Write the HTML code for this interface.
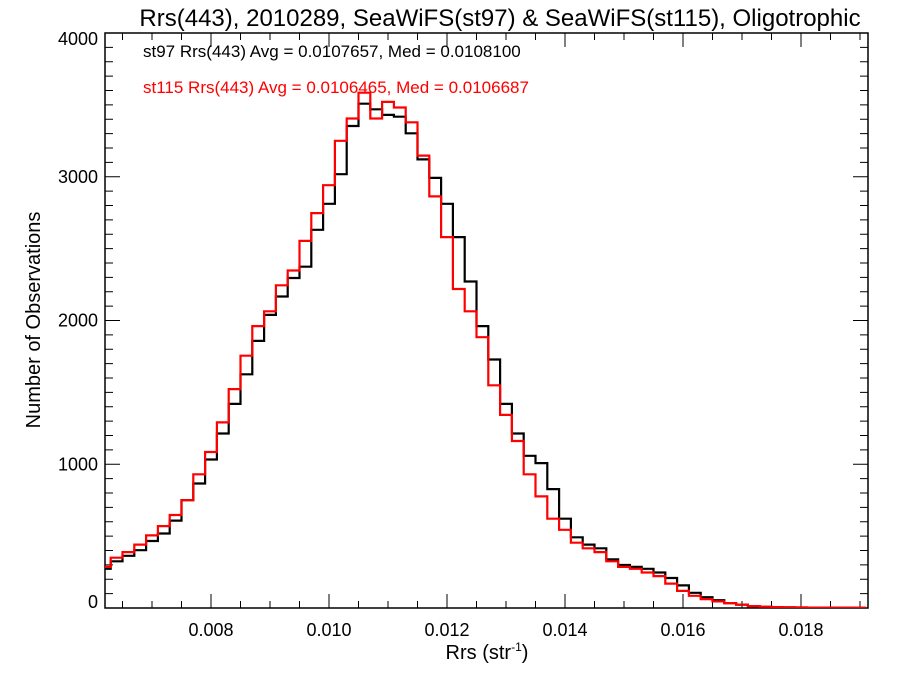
<!DOCTYPE html>
<html><head><meta charset="utf-8"><style>
body{margin:0;background:#fff}
svg{display:block;font-family:"Liberation Sans",sans-serif}
</style></head><body>
<svg id="chart" width="900" height="675">
<rect x="0" y="0" width="900" height="675" fill="#fff"/>
<text x="500" y="26" font-size="24" text-anchor="middle">Rrs(443), 2010289, SeaWiFS(st97) &amp; SeaWiFS(st115), Oligotrophic</text>
<text x="143" y="57" font-size="17" fill="#000">st97 Rrs(443) Avg = 0.0107657, Med = 0.0108100</text>
<text x="143" y="93" font-size="17" fill="#ff0000">st115 Rrs(443) Avg = 0.0106465, Med = 0.0106687</text>
<text x="487" y="659" font-size="20" text-anchor="middle">Rrs (str<tspan font-size="12" dy="-8">-1</tspan><tspan dy="8">)</tspan></text>
<text transform="translate(40,320) rotate(-90)" font-size="20" text-anchor="middle">Number of Observations</text>
<g id="axes"></g>
<defs><clipPath id="clip"><rect x="105" y="33" width="763" height="575"/></clipPath></defs>
<g id="series" clip-path="url(#clip)"></g>
</svg>
<script>
const binStart = 0.0062;
const binWidth = 0.0002;
const st97 = [273,325,363,402,466,518,608,750,866,1033,1214,1420,1626,1858,2039,2167,2296,2374,2631,2812,3018,3353,3508,3469,3430,3418,3302,3121,2992,2812,2580,2271,1961,1729,1420,1214,1059,1008,827,621,492,441,415,338,299,286,273,247,209,157,106,75,54,34,23,12,8,6,4,3,3,2,2,2,1];
const st115 = [286,350,389,441,505,570,647,750,930,1085,1291,1523,1755,1961,2064,2245,2348,2554,2747,2941,3250,3405,3585,3405,3521,3482,3379,3147,2863,2580,2219,2064,1884,1549,1343,1162,930,776,621,544,454,415,389,325,286,273,247,222,170,119,85,62,46,34,23,13,9,6,5,4,3,3,2,2,2];
const xTicks = [0.008,0.010,0.012,0.014,0.016,0.018];
const xTickLabels = ["0.008","0.010","0.012","0.014","0.016","0.018"];
const yTicks = [0,1000,2000,3000,4000];
const yTickLabels = ["0","1000","2000","3000","4000"];
const X0=105,X1=868,Y0=608,Y1=33;
const xmin=0.008-106/59000, xmax=0.008+657/59000;
function xs(v){return X0+(v-xmin)/(xmax-xmin)*(X1-X0);}
function ys(v){return Y0-(v/4000)*(Y0-Y1);}
const NS="http://www.w3.org/2000/svg";
const axes=document.getElementById('axes');
function mk(tag,attrs,parent){const e=document.createElementNS(NS,tag);for(const k in attrs)e.setAttribute(k,attrs[k]);parent.appendChild(e);return e;}
const frame=mk('rect',{x:X0,y:Y1,width:X1-X0,height:Y0-Y1,fill:'none',stroke:'#000','stroke-width':1.5},axes);


for(let v=0.0065;v<xmax;v+=0.0005){const x=xs(v);
 const t1=mk('line',{x1:x,x2:x,y1:Y0,y2:Y0-7,stroke:'#000'},axes);
 
 
 const t2=mk('line',{x1:x,x2:x,y1:Y1,y2:Y1+7,stroke:'#000'},axes);
 
 }
xTicks.forEach((v,i)=>{const x=xs(v);
 const a=mk('line',{x1:x,x2:x,y1:Y0,y2:Y0-14,stroke:'#000'},axes);
 
 
 const b=mk('line',{x1:x,x2:x,y1:Y1,y2:Y1+14,stroke:'#000'},axes);
 
 
 const t=mk('text',{x:x,y:636,'font-size':18,'text-anchor':'middle'},axes);t.textContent=xTickLabels[i];
 
 });
for(let v=100;v<4000;v+=100){if(v%1000===0)continue;const y=ys(v);
 const a=mk('line',{x1:X0,x2:X0+8,y1:y,y2:y,stroke:'#000'},axes);
 
 
 const b=mk('line',{x1:X1,x2:X1-8,y1:y,y2:y,stroke:'#000'},axes);
 
 }
yTicks.forEach((v,i)=>{const y=ys(v);
 const a=mk('line',{x1:X0,x2:X0+15,y1:y,y2:y,stroke:'#000'},axes);
 
 
 const b=mk('line',{x1:X1,x2:X1-15,y1:y,y2:y,stroke:'#000'},axes);
 
 
 const ty=i===0?y:(i===yTicks.length-1?y+12:y+6);
 const t=mk('text',{x:98,y:ty,'font-size':18,'text-anchor':'end'},axes);t.textContent=yTickLabels[i];
 
 });
function stepPath(vals){let d='';vals.forEach((v,i)=>{const a=xs(binStart+(i-0.5)*binWidth),b=xs(binStart+(i+0.5)*binWidth),y=ys(v);
 d+=(i===0?'M':'L')+a.toFixed(1)+','+y.toFixed(1)+'L'+b.toFixed(1)+','+y.toFixed(1);});return d;}
const series=document.getElementById('series');
const p1=mk('path',{d:stepPath(st97),fill:'none',stroke:'#000','stroke-width':2.2},series);


const p2=mk('path',{d:stepPath(st115),fill:'none',stroke:'#ff0000','stroke-width':2.2},series);


</script>
</body></html>
